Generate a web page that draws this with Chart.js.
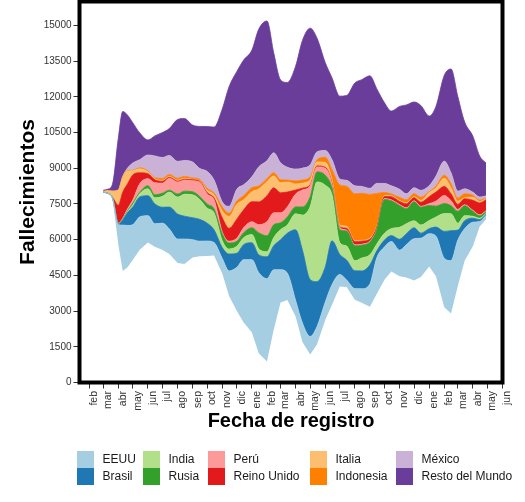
<!DOCTYPE html>
<html lang="es">
<head>
<meta charset="UTF-8">
<title>Fallecimientos por fecha de registro</title>
<script src="https://cdn.jsdelivr.net/npm/chart.js"></script>
<style>
  html, body { margin: 0; padding: 0; background: #fff; }
  #wrap { position: relative; width: 525px; height: 502px; }
  #chart { position: absolute; left: 0; top: 0; }
  .item { position: absolute; height: 16.5px; font: 12px "Liberation Sans", Arial, sans-serif; color: #1a1a1a; white-space: nowrap; }
  .item .key { position: absolute; left: 0; top: 0; width: 17px; height: 16.5px; }
  .item .txt { position: absolute; left: 25.5px; top: 0; line-height: 16.5px; }
</style>
</head>
<body>
<div id="wrap">
  <canvas id="chart" width="525" height="502"></canvas>
  <div id="legend"></div>
</div>
<script>
// valores diarios aproximados, una fila por fecha
const fechas = ['2020-03-01','2020-03-10','2020-03-20','2020-04-01','2020-04-10','2020-04-20','2020-05-01','2020-05-15',
  '2020-06-01','2020-06-15','2020-07-01','2020-07-15','2020-08-01','2020-08-15','2020-09-01','2020-09-15',
  '2020-10-01','2020-10-15','2020-11-01','2020-11-15','2020-12-01','2020-12-15','2021-01-01','2021-01-15',
  '2021-02-01','2021-02-15','2021-03-01','2021-03-15','2021-04-01','2021-04-15','2021-05-01','2021-05-15',
  '2021-06-01','2021-06-15','2021-07-01','2021-07-15','2021-08-01','2021-08-15','2021-09-01','2021-09-15',
  '2021-10-01','2021-10-15','2021-11-01','2021-11-15','2021-12-01','2021-12-15','2022-01-01','2022-01-15',
  '2022-02-01','2022-02-15','2022-03-01','2022-03-15','2022-04-01','2022-04-15','2022-04-28'];

const eeuu = [0,5,20,840,1930,1760,1470,1380,1130,960,1130,1050,1010,1050,750,630,
  630,540,630,1050,1840,2640,3060,3390,3480,2510,1380,1130,670,800,750,750,
  750,840,500,290,460,590,960,1510,1380,1260,1090,1380,1760,1630,1380,1680,
  2050,2220,1930,1340,1010,210,170];
const brasil = [0,0,0,20,210,540,750,840,840,840,670,920,1050,960,920,920,
  750,540,460,710,590,630,710,750,920,1010,1260,1680,2970,3060,2390,1890,
  1470,1840,840,840,750,750,800,290,290,250,460,460,460,210,210,380,
  1130,1260,420,340,170,80,40];
const india = [0,0,0,10,20,40,80,130,290,250,460,630,710,920,960,840,
  630,710,290,210,290,290,340,250,210,340,420,340,670,1470,3060,4190,
  3440,1930,500,590,420,540,420,290,290,290,500,420,290,340,340,420,
  750,710,290,210,80,60,40];
const rusia = [0,0,0,20,20,40,80,60,130,130,130,80,130,130,130,130,
  170,170,290,250,210,210,290,670,670,540,290,340,290,340,420,420,
  420,290,540,630,630,540,540,590,1420,1170,920,630,800,750,630,460,
  420,340,500,420,210,100,80];
const peru = [0,0,0,20,40,80,130,360,290,500,420,500,500,460,460,590,
  420,380,80,80,130,210,250,340,590,500,420,420,540,710,460,210,
  290,170,80,40,40,40,40,40,40,40,40,40,40,40,80,210,
  340,210,80,40,40,40,40];
const reinoUnido = [0,5,30,750,1090,1050,1050,460,210,130,80,40,40,40,40,40,
  60,80,590,540,800,750,840,960,1090,1050,840,630,170,80,40,40,
  40,40,40,80,130,130,80,80,80,130,130,170,130,170,290,380,
  380,290,210,250,420,500,460];
const italia = [30,100,260,630,630,540,170,170,80,40,40,40,40,40,20,20,
  100,130,290,500,630,420,420,540,590,500,420,420,250,210,210,170,
  210,130,80,80,40,40,40,40,40,40,40,40,40,80,170,170,
  340,250,130,40,130,60,40];
const indonesia = [0,0,0,10,20,20,20,40,40,40,80,80,80,80,60,60,
  80,80,170,130,130,170,170,130,130,130,130,80,130,130,130,80,
  210,420,1680,1680,1970,1970,1840,1380,130,80,130,130,130,130,40,80,
  130,170,130,170,80,60,40];
const mexico = [0,0,0,15,20,100,310,340,670,920,880,800,710,670,670,460,
  710,540,210,290,500,460,460,800,750,840,710,540,500,500,500,340,
  290,420,250,250,340,290,250,420,380,340,340,250,250,290,250,420,
  590,460,290,210,130,130,80];
const resto = [60,60,300,2180,2720,2220,1680,1130,630,840,1050,1130,1760,1760,1550,1760,
  1890,2220,3900,5030,4940,5240,5320,5780,5870,4190,3480,3560,4320,5360,5740,4780,
  3690,3440,3480,3560,4320,4480,4730,3980,3390,3140,3480,3730,3600,3560,2930,2930,
  3600,4360,3980,2810,2350,1720,1380];

const paises = ['EEUU','Brasil','India','Rusia','Perú','Reino Unido','Italia','Indonesia','México','Resto del Mundo'];
const series = [eeuu, brasil, india, rusia, peru, reinoUnido, italia, indonesia, mexico, resto];
const colores = ['#A6CEE3','#1F78B4','#B2DF8A','#33A02C','#FB9A99','#E31A1C','#FDBF6F','#FF7F00','#CAB2D6','#6A3D9A'];

const yTicks = [0,1500,3000,4500,6000,7500,9000,10500,12000,13500,15000];
const meses = ['ene','feb','mar','abr','may','jun','jul','ago','sep','oct','nov','dic'];
const CENTRO = 8030; // eje central del flujo

function dia(y, m, d) { return (Date.UTC(y, m, d) - Date.UTC(2020, 1, 1)) / 86400000; }
function diaDe(s) { const p = s.split('-').map(Number); return dia(p[0], p[1] - 1, p[2]); }

const xs = fechas.map(diaDe);

// marcas mensuales feb 2020 .. jun 2022
const marcas = [];
for (let k = 0; k <= 28; k++) {
  const m = 1 + k;
  const y = 2020 + Math.floor(m / 12);
  marcas.push({ value: dia(y, m % 12, 1), label: meses[m % 12] });
}

// linea base del flujo (centrado)
const base = xs.map((x, i) => CENTRO - series.reduce((s, a) => s + a[i], 0) / 2);

const datasets = [{
  label: 'base',
  data: xs.map((x, i) => ({ x: x, y: base[i] })),
  borderWidth: 0,
  borderColor: 'rgba(0,0,0,0)',
  pointRadius: 0,
  fill: false
}];
series.forEach((vals, j) => {
  datasets.push({
    label: paises[j],
    data: xs.map((x, i) => ({ x: x, y: vals[i] })),
    backgroundColor: colores[j],
    borderColor: colores[j],
    borderWidth: 0.8,
    pointRadius: 0,
    fill: '-1',
    cubicInterpolationMode: 'monotone'
  });
});

const marco = {
  id: 'marco',
  afterDraw(chart) {
    const { ctx, chartArea: a } = chart;
    ctx.save();
    ctx.strokeStyle = '#000';
    ctx.lineWidth = 4;
    ctx.strokeRect(a.left, a.top, a.right - a.left, a.bottom - a.top);
    ctx.restore();
  }
};

new Chart(document.getElementById('chart'), {
  type: 'line',
  data: { datasets: datasets },
  options: {
    responsive: false,
    animation: false,
    events: [],
    layout: { padding: { left: 16, right: 22.5, top: 1.5, bottom: 69 } },
    plugins: { legend: { display: false }, tooltip: { enabled: false } },
    scales: {
      x: {
        type: 'linear',
        min: -20,
        max: 851,
        afterBuildTicks: s => { s.ticks = marcas.map(t => ({ value: t.value })); },
        afterFit: s => { s.height = 50.5; s.paddingLeft = 0; s.paddingRight = 0; },
        grid: { drawOnChartArea: false, drawTicks: true, tickLength: 6, color: '#333333' },
        border: { display: false },
        ticks: {
          autoSkip: false,
          minRotation: 90,
          maxRotation: 90,
          padding: 2.5,
          labelOffset: 5,
          color: '#333333',
          font: { family: 'Liberation Sans', size: 10.5 },
          callback: (v) => { const t = marcas.find(m => m.value === v); return t ? t.label : ''; }
        },
        title: {
          display: true,
          text: 'Fecha de registro',
          color: '#000',
          padding: 0,
          font: { family: 'Liberation Sans', size: 20, weight: 'bold' }
        }
      },
      y: {
        stacked: true,
        min: 0,
        max: 16000,
        afterBuildTicks: s => { s.ticks = yTicks.map(v => ({ value: v })); },
        afterFit: s => { s.width = 63.5; s.paddingTop = 0; s.paddingBottom = 0; },
        grid: { drawOnChartArea: false, drawTicks: true, tickLength: 6, color: '#333333' },
        border: { display: false },
        ticks: {
          padding: 2,
          color: '#333333',
          font: { family: 'Liberation Sans', size: 10 },
          callback: v => String(v)
        },
        title: {
          display: true,
          text: 'Fallecimientos',
          color: '#000',
          padding: 0,
          font: { family: 'Liberation Sans', size: 21, weight: 'bold' }
        }
      }
    }
  },
  plugins: [marco]
});

// leyenda en dos filas, por columnas
const legX = [77, 143, 208, 310, 396];
const legY = [451, 468];
const leg = document.getElementById('legend');
paises.forEach((p, i) => {
  const d = document.createElement('div');
  d.className = 'item';
  d.style.left = legX[Math.floor(i / 2)] + 'px';
  d.style.top = legY[i % 2] + 'px';
  d.innerHTML = '<span class="key" style="background:' + colores[i] + '"></span><span class="txt">' + p + '</span>';
  leg.appendChild(d);
});
</script>
</body>
</html>
